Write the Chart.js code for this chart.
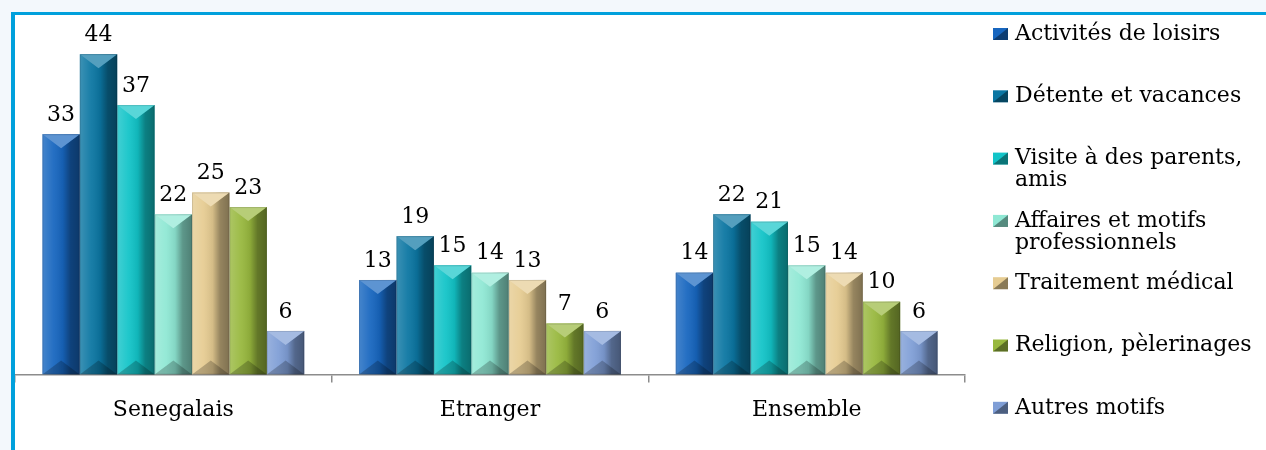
<!DOCTYPE html>
<html>
<head>
<meta charset="utf-8">
<script src="https://cdn.jsdelivr.net/npm/chart.js@4.4.1/dist/chart.umd.min.js"></script>
<style>
  html, body { margin: 0; padding: 0; }
  body { width: 1266px; height: 450px; overflow: hidden; background: #f3f8fc; position: relative; }
  .frame { position: absolute; left: 11px; top: 12px; width: 1300px; height: 500px;
           border-top: 3px solid #00a0dc; border-left: 4px solid #00a0dc; background: #fff; }
  .box { position: absolute; left: 15px; top: 15px; width: 1251px; height: 435px; }
</style>
</head>
<body>
<div class="frame"></div>
<div class="box"><canvas id="chart"></canvas></div>
<script>
const categories = ["Senegalais", "Etranger", "Ensemble"];
const loisirs = [33, 13, 14];
const detente = [44, 19, 22];
const visite = [37, 15, 21];
const affaires = [22, 14, 15];
const medical = [25, 13, 14];
const religion = [23, 7, 10];
const autres = [6, 6, 6];

const seriesLabels = [
  ["Activités de loisirs"],
  ["Détente et vacances"],
  ["Visite à des parents,", "amis"],
  ["Affaires et motifs", "professionnels"],
  ["Traitement médical"],
  ["Religion, pèlerinages"],
  ["Autres motifs"]
];
const seriesData = [loisirs, detente, visite, affaires, medical, religion, autres];
const colors = ["#1766bf", "#0b76a2", "#12c4c8", "#8fe8d4", "#e6cc92", "#98b83e", "#7f9ed6"];

const FONT = "'DejaVu Serif', 'Liberation Serif', serif";

// bevel look + value labels on top of the bars
const bevelPlugin = {
  id: "bevel",
  afterDatasetsDraw(chart) {
    const ctx = chart.ctx;
    chart.data.datasets.forEach((ds, i) => {
      const meta = chart.getDatasetMeta(i);
      meta.data.forEach((bar, j) => {
        const w = bar.width, x0 = bar.x - w / 2, x1 = bar.x + w / 2;
        const top = bar.y, bot = bar.base;
        const d = Math.min(14, (bot - top) / 2);
        ctx.save();
        let g = ctx.createLinearGradient(x0, 0, x1, 0);
        g.addColorStop(0, "rgba(255,255,255,0.2)");
        g.addColorStop(0.3, "rgba(255,255,255,0.06)");
        g.addColorStop(0.55, "rgba(0,0,0,0.08)");
        g.addColorStop(0.75, "rgba(0,0,0,0.35)");
        g.addColorStop(1, "rgba(0,0,0,0.45)");
        ctx.fillStyle = g;
        ctx.fillRect(x0, top, w, bot - top);
        // top bevel
        ctx.beginPath();
        ctx.moveTo(x0, top); ctx.lineTo(x1, top); ctx.lineTo(bar.x, top + d); ctx.closePath();
        ctx.fillStyle = ds.backgroundColor;
        ctx.fill();
        ctx.fillStyle = "rgba(255,255,255,0.3)";
        ctx.fill();
        // bottom bevel
        ctx.beginPath();
        ctx.moveTo(x0, bot); ctx.lineTo(x1, bot); ctx.lineTo(bar.x, bot - d); ctx.closePath();
        ctx.fillStyle = "rgba(0,0,0,0.22)";
        ctx.fill();
        ctx.strokeStyle = "rgba(0,0,0,0.12)";
        ctx.lineWidth = 1;
        ctx.strokeRect(x0 + 0.5, top + 0.5, w - 1, bot - top - 1);
        // value
        ctx.fillStyle = "#000";
        ctx.font = "22px " + FONT;
        ctx.textAlign = "center";
        ctx.textBaseline = "middle";
        ctx.fillText(ds.data[j], bar.x, top - 19);
        ctx.restore();
      });
    });
  }
};

// legend on the right, with wrapped labels
const legendPlugin = {
  id: "sideLegend",
  afterDraw(chart) {
    const ctx = chart.ctx;
    const mx = 978, tx = 1000, y0 = 19, step = 62.3, lh = 22;
    ctx.save();
    ctx.font = "22px " + FONT;
    ctx.textBaseline = "middle";
    ctx.textAlign = "left";
    seriesLabels.forEach((lines, i) => {
      const y = y0 + i * step;
      ctx.fillStyle = colors[i];
      ctx.fillRect(mx, y - 6, 15, 12);
      ctx.beginPath();
      ctx.moveTo(mx + 15, y - 6); ctx.lineTo(mx + 15, y + 6); ctx.lineTo(mx, y + 6); ctx.closePath();
      ctx.fillStyle = "rgba(0,0,0,0.4)";
      ctx.fill();
      ctx.fillStyle = "#000";
      lines.forEach((t, k) => ctx.fillText(t, tx, y + k * lh));
    });
    ctx.restore();
  }
};

new Chart(document.getElementById("chart"), {
  type: "bar",
  data: {
    labels: categories,
    datasets: seriesData.map((d, i) => ({
      label: seriesLabels[i].join(" "),
      data: d,
      backgroundColor: colors[i],
      borderWidth: 0,
      categoryPercentage: 0.827,
      barPercentage: 1
    }))
  },
  options: {
    responsive: true,
    maintainAspectRatio: false,
    animation: false,
    layout: { padding: { top: 10, right: 301, bottom: 13, left: 0 } },
    plugins: { legend: { display: false }, tooltip: { enabled: false } },
    scales: {
      x: {
        grid: { display: true, drawOnChartArea: false, drawTicks: true, tickLength: 8, color: "#8c8c8c", lineWidth: 1.5 },
        border: { display: true, color: "#8c8c8c", width: 1.5 },
        ticks: { color: "#000", padding: 14, font: { family: FONT, size: 22 } }
      },
      y: { display: false, min: 0, max: 48 }
    }
  },
  plugins: [bevelPlugin, legendPlugin]
});
</script>
</body>
</html>
